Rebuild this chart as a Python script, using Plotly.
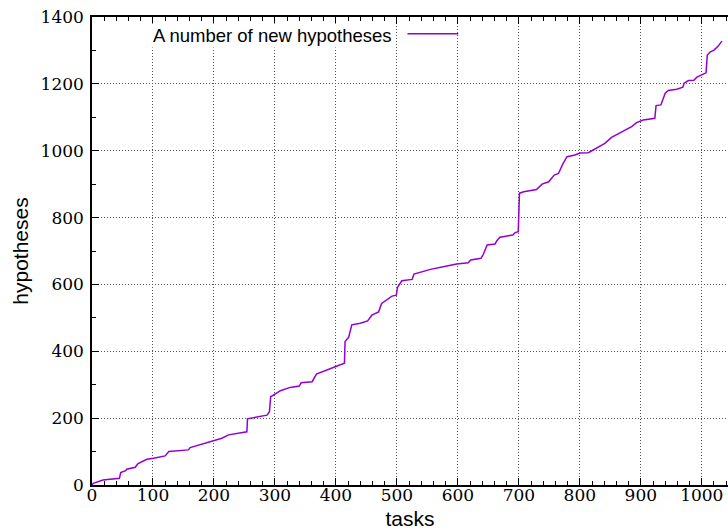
import plotly.graph_objects as go

# Cumulative number of new hypotheses after each task
tasks = [0, 2, 18, 45, 47, 55, 57, 71, 75, 82, 90, 101, 120, 126, 158, 161, 183, 199,
         213, 224, 240, 254, 255, 270, 287, 291, 293, 300, 309, 325, 340, 343, 361,
         368, 377, 396, 402, 414, 415, 421, 426, 440, 452, 459, 470, 475, 484, 492,
         499, 501, 508, 525, 528, 541, 555, 576, 598, 617, 621, 638, 642, 648, 661,
         664, 669, 690, 694, 699, 701, 708, 729, 738, 749, 758, 765, 772, 779, 792,
         800, 814, 823, 832, 841, 852, 863, 874, 885, 893, 904, 923, 925, 933, 940,
         945, 959, 969, 971, 978, 987, 992, 1003, 1007, 1009, 1014, 1020, 1027, 1033]
hypotheses = [0, 5, 15, 20, 37, 43, 47, 53, 63, 70, 77, 80, 87, 100, 105, 112, 123, 131,
              140, 150, 155, 159, 198, 204, 209, 219, 264, 272, 282, 292, 296, 306, 309,
              332, 339, 352, 356, 364, 429, 442, 479, 484, 491, 508, 518, 543, 555, 565,
              568, 591, 611, 615, 631, 638, 645, 653, 661, 665, 673, 678, 691, 718, 721,
              731, 741, 748, 755, 758, 873, 877, 884, 900, 907, 927, 932, 960, 982, 987,
              993, 994, 1004, 1014, 1022, 1040, 1050, 1062, 1072, 1084, 1092, 1097, 1135,
              1137, 1172, 1180, 1184, 1190, 1202, 1210, 1211, 1220, 1229, 1233, 1286,
              1296, 1301, 1313, 1328]

x_ticks = [0, 100, 200, 300, 400, 500, 600, 700, 800, 900, 1000]
y_ticks = [0, 200, 400, 600, 800, 1000, 1200, 1400]
series_name = "A number of new hypotheses"

LINE_COLOR = "#9400d3"
TICK_FONT = dict(family="DejaVu Serif", size=17, color="black")
TITLE_FONT = dict(family="Liberation Sans", size=21, color="black")

fig = go.Figure()
fig.add_trace(go.Scatter(
    x=tasks, y=hypotheses, mode="lines", name=series_name,
    line=dict(color=LINE_COLOR, width=1.5), showlegend=False,
))

grid = dict(showgrid=True, gridcolor="#555555", griddash="1px,2px", gridwidth=1)

fig.update_xaxes(
    range=[0, 1043], tickvals=x_ticks, ticktext=[str(v) for v in x_ticks],
    ticks="inside", ticklen=7, tickcolor="black", tickwidth=1,
    minor=dict(dtick=20, ticks="inside", ticklen=4, tickcolor="black", showgrid=False),
    showline=True, linecolor="black", linewidth=1.5, mirror="ticks",
    tickfont=TICK_FONT, zeroline=False, ticklabelstandoff=-6,
    title=dict(text="tasks", font=TITLE_FONT, standoff=7),
    **grid,
)
fig.update_yaxes(
    range=[0, 1400], tickvals=y_ticks, ticktext=[str(v) for v in y_ticks],
    ticks="inside", ticklen=7, tickcolor="black", tickwidth=1,
    minor=dict(dtick=100, ticks="inside", ticklen=4, tickcolor="black", showgrid=False),
    showline=True, linecolor="black", linewidth=1.5, mirror=False,
    tickfont=TICK_FONT, zeroline=False, ticklabelstandoff=3,
    title=dict(text="hypotheses", font=TITLE_FONT, standoff=6),
    **grid,
)

# Key in gnuplot style: label on the left, line sample on the right
fig.add_annotation(
    text=series_name, xref="paper", yref="paper", x=0.475, y=0.960,
    xanchor="right", yanchor="middle", showarrow=False,
    font=dict(family="Liberation Sans", size=18.5, color="black"),
    bgcolor="white",
)
fig.add_shape(
    type="line", xref="paper", yref="paper", x0=0.496, x1=0.576, y0=0.964, y1=0.964,
    line=dict(color=LINE_COLOR, width=1.5),
)

fig.update_layout(
    width=728, height=532,
    margin=dict(l=92, r=0, t=17, b=47),
    paper_bgcolor="white", plot_bgcolor="white",
)

fig.write_html("out.html")
